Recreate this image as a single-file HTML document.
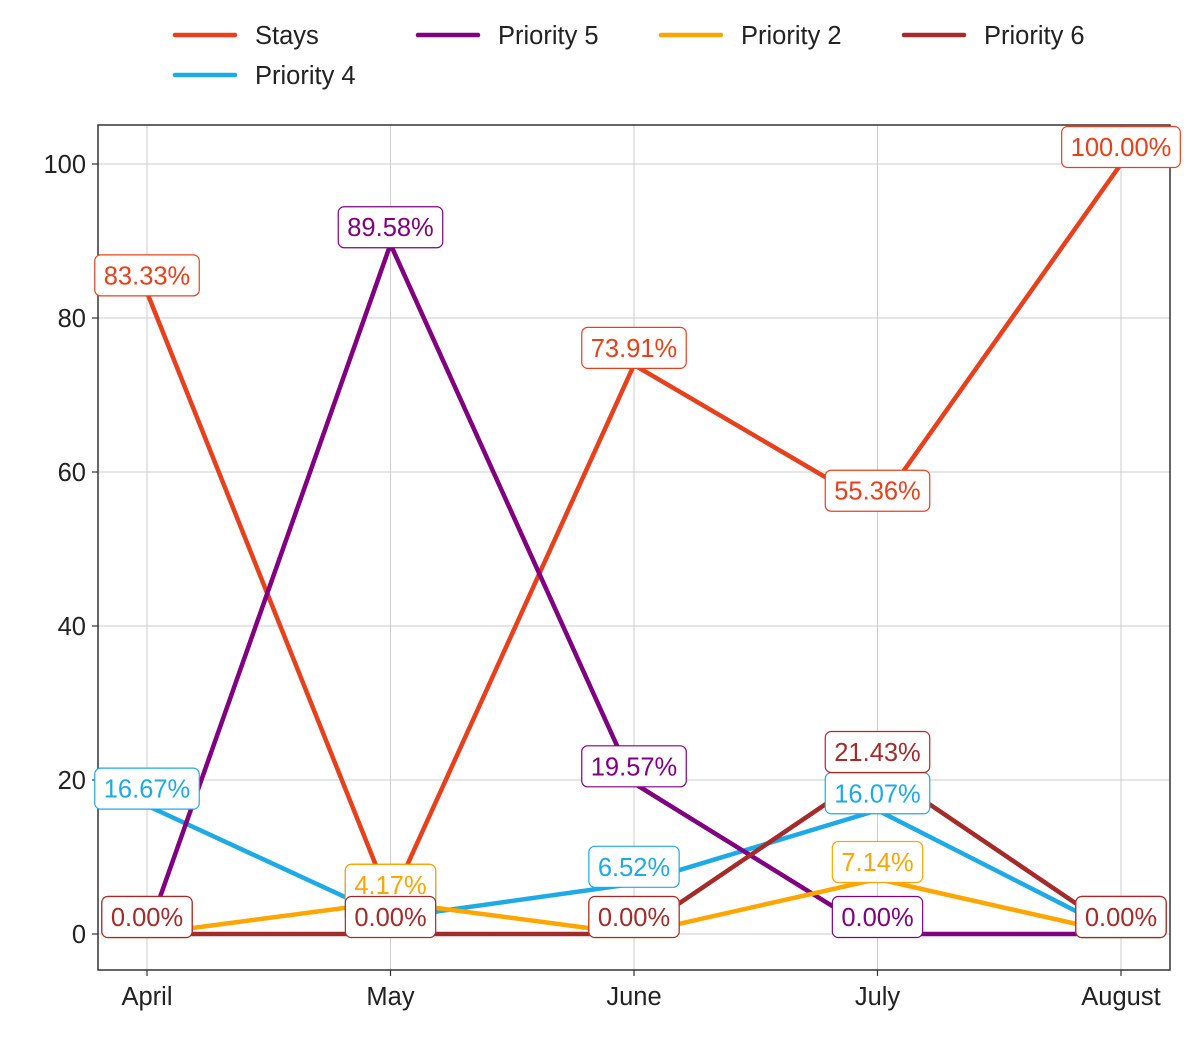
<!DOCTYPE html>
<html><head><meta charset="utf-8"><style>
body{margin:0;background:#fff;}
svg{display:block;font-family:"Liberation Sans",Arial,sans-serif;}
</style></head><body>
<svg id="chart" width="1200" height="1050"></svg>
<script>
const categories=["April","May","June","July","August"];
const seriesNames=["Stays","Priority 4","Priority 5","Priority 2","Priority 6"];
const staysValues=[83.33,4.17,73.91,55.36,100];
const p4Values=[16.67,2.08,6.52,16.07,0];
const p5Values=[0,89.58,19.57,0,0];
const p2Values=[0,4.17,0,7.14,0];
const p6Values=[0,0,0,21.43,0];
const yTicks=[0,20,40,60,80,100];
const legendOrder=["Stays","Priority 5","Priority 2","Priority 6","Priority 4"];

const colors={"Stays":"#e8401c","Priority 4":"#1eaae6","Priority 5":"#800080","Priority 2":"#ffa500","Priority 6":"#a52a2a"};
const valuesMap={"Stays":staysValues,"Priority 4":p4Values,"Priority 5":p5Values,"Priority 2":p2Values,"Priority 6":p6Values};
const NS="http://www.w3.org/2000/svg";
const svg=document.getElementById('chart');
const L=98,R=1170,T=125,B=970;
const FS=25.5;
const x=i=>147+i*(1121-147)/(categories.length-1);
const y=v=>934-v*(934-164)/100;
function mk(tag,attrs,parent){const e=document.createElementNS(NS,tag);for(const k in attrs)e.setAttribute(k,attrs[k]);(parent||svg).appendChild(e);return e;}

yTicks.forEach(t=>{
 const g=mk('line',{x1:L,x2:R,y1:y(t),y2:y(t),stroke:'#cccccc','stroke-width':1});
 
 
 mk('line',{x1:L-6,x2:L,y1:y(t),y2:y(t),stroke:'#333','stroke-width':1.2});
 const tx=mk('text',{x:L-12,y:y(t)+9,'text-anchor':'end','font-size':FS,fill:'#222'});
 tx.textContent=t;
 
 
});
categories.forEach((c,i)=>{
 const g=mk('line',{x1:x(i),x2:x(i),y1:T,y2:B,stroke:'#cccccc','stroke-width':1});
 
 
 mk('line',{x1:x(i),x2:x(i),y1:B,y2:B+6,stroke:'#333','stroke-width':1.2});
 const tx=mk('text',{x:x(i),y:B+35,'text-anchor':'middle','font-size':FS,fill:'#222'});
 tx.textContent=c;
 
 
});
const frame=mk('rect',{x:L,y:T,width:R-L,height:B-T,fill:'none',stroke:'#333','stroke-width':1.5});



seriesNames.forEach(s=>{
 const pts=valuesMap[s].map((v,i)=>x(i)+','+y(v)).join(' ');
 const pl=mk('polyline',{points:pts,fill:'none',stroke:colors[s],'stroke-width':4.5,'stroke-linejoin':'round'});
 
 
});
seriesNames.forEach(s=>{
 valuesMap[s].forEach((v,i)=>{
  const txt=v.toFixed(2)+'%';
  const h=41, cx=x(i), cy=y(v)-17;
  const g=mk('g',{});
  
  
  const r=mk('rect',{x:cx,y:cy-h/2,width:10,height:h,rx:6,fill:'#fff',stroke:colors[s],'stroke-width':1.2},g);
  const t=mk('text',{x:cx,y:cy+9,'text-anchor':'middle','font-size':FS,fill:colors[s]},g);
  t.textContent=txt;
  const w=t.getComputedTextLength()+18;
  r.setAttribute('x',cx-w/2);
  r.setAttribute('width',w);
 });
});
legendOrder.forEach((s,k)=>{
 const col=k%4,row=Math.floor(k/4);
 const lx=175+col*243, ly=35+row*40;
 const g=mk('g',{});
 
 
 mk('line',{x1:lx,x2:lx+60,y1:ly,y2:ly,stroke:colors[s],'stroke-width':4.5,'stroke-linecap':'round'},g);
 const t=mk('text',{x:lx+80,y:ly+9,'font-size':FS,fill:'#222'},g);
 t.textContent=s;
});
</script>
</body></html>
